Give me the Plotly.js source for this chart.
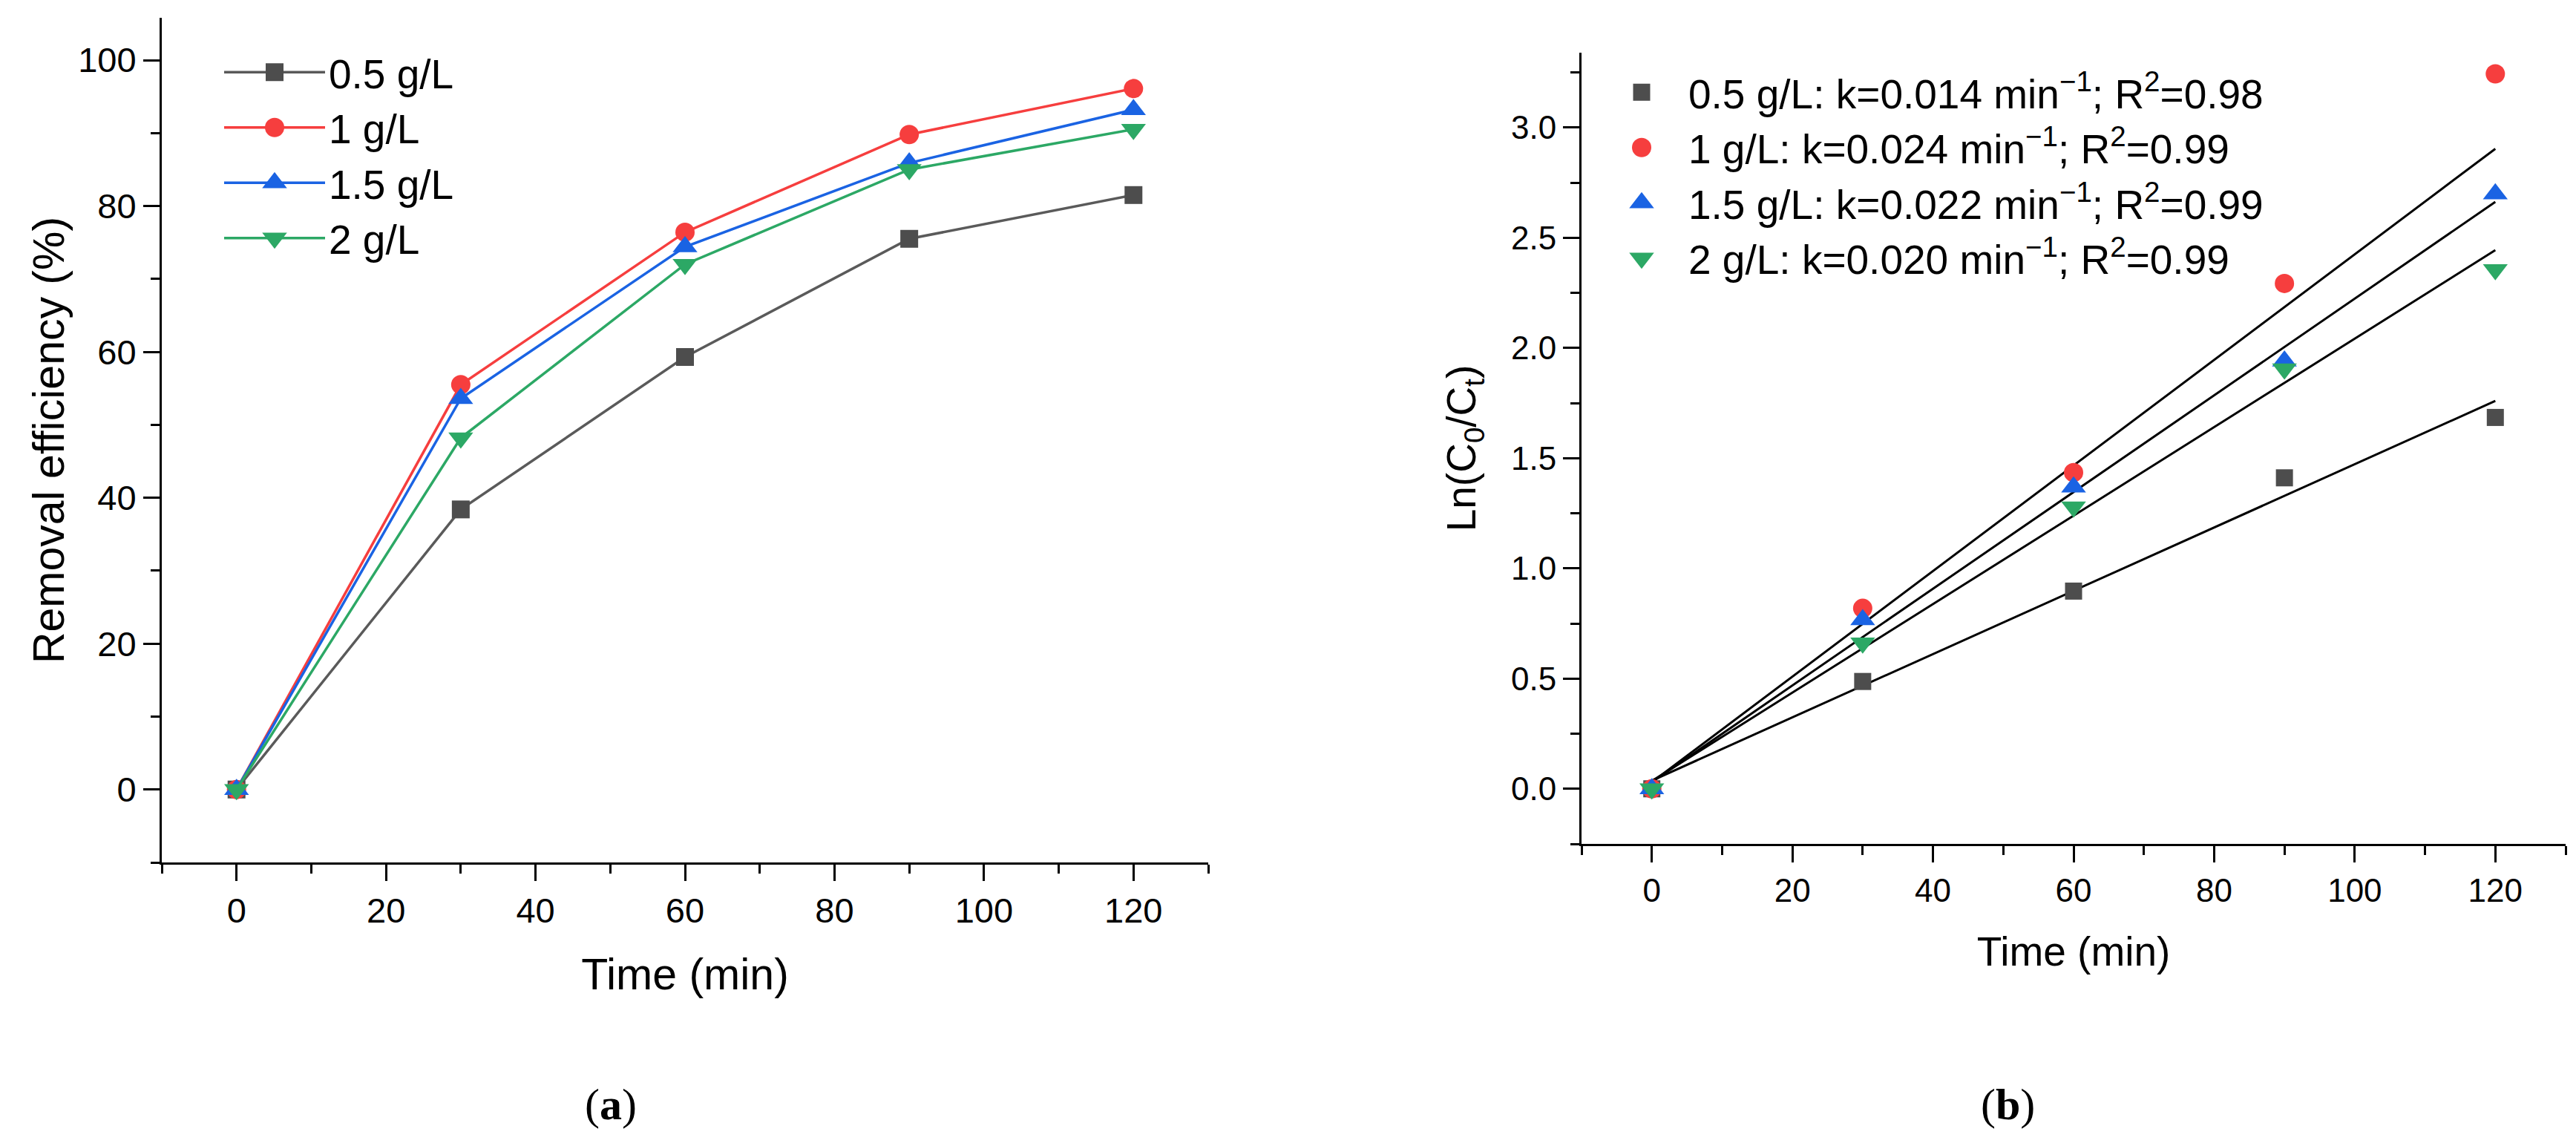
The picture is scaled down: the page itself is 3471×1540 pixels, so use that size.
<!DOCTYPE html>
<html>
<head>
<meta charset="utf-8">
<script src="https://cdn.plot.ly/plotly-3.0.1.min.js"></script>
<style>
  html, body { margin: 0; padding: 0; background: #ffffff; }
  #chart { width: 3471px; height: 1540px; }
</style>
</head>
<body>
<div id="chart"></div>
<script>
// ---------------- data ----------------
const timeMin = [0, 30, 60, 90, 120];
const seriesNames = ['0.5 g/L', '1 g/L', '1.5 g/L', '2 g/L'];

// (a) removal efficiency (%)
const removal05 = [0, 38.4, 59.3, 75.5, 81.5];
const removal1  = [0, 55.5, 76.4, 89.8, 96.1];
const removal15 = [0, 53.6, 74.4, 85.9, 93.2];
const removal2  = [0, 48.2, 72.0, 85.0, 90.5];

// (b) ln(C0/Ct)
const lnRatio05 = [0, 0.487, 0.897, 1.411, 1.685];
const lnRatio1  = [0, 0.819, 1.435, 2.293, 3.244];
const lnRatio15 = [0, 0.767, 1.369, 1.941, 2.699];
const lnRatio2  = [0, 0.662, 1.279, 1.905, 2.356];

// fitted lines (values at the ends of the fit range)
const fitTime = [0, 120];
const fit05 = [0.037, 1.760];
const fit1  = [0.030, 2.904];
const fit15 = [0.030, 2.663];
const fit2  = [0.035, 2.444];

const kValues = ['0.014', '0.024', '0.022', '0.020'];
const r2Values = ['0.98', '0.99', '0.99', '0.99'];

// ---------------- styles ----------------
const colors = ['#4d4d4d', '#f63e3e', '#1a63e3', '#2ca865'];
const lineColors = ['#5a5a5a', '#f63e3e', '#1a63e3', '#2ca865'];
const symbols = ['square', 'circle', 'triangle-up', 'triangle-down'];
const sizesA = [24, 26, 29, 29];
const sizesB = [23, 26, 29, 29];
const FONT = 'Liberation Sans, Arial, Helvetica, sans-serif';
const W = 3471, H = 1540;

const removalSets = [removal05, removal1, removal15, removal2];
const lnSets = [lnRatio05, lnRatio1, lnRatio15, lnRatio2];
const fitSets = [fit05, fit1, fit15, fit2];

const traces = [];
removalSets.forEach((ys, i) => {
  traces.push({
    type: 'scatter', mode: 'lines+markers',
    x: timeMin, y: ys, name: seriesNames[i],
    xaxis: 'x', yaxis: 'y', legend: 'legend',
    line: { color: lineColors[i], width: 3.5 },
    marker: { color: colors[i], symbol: symbols[i], size: sizesA[i], line: { width: 0 } }
  });
});
fitSets.forEach((ys, i) => {
  traces.push({
    type: 'scatter', mode: 'lines',
    x: fitTime, y: ys, showlegend: false,
    xaxis: 'x2', yaxis: 'y2',
    line: { color: '#000000', width: 3 }, hoverinfo: 'skip'
  });
});
lnSets.forEach((ys, i) => {
  traces.push({
    type: 'scatter', mode: 'markers',
    x: timeMin, y: ys,
    name: seriesNames[i] + ': k=' + kValues[i] + ' min<sup>\u22121</sup>; R<sup>2</sup>=' + r2Values[i],
    xaxis: 'x2', yaxis: 'y2', legend: 'legend2',
    marker: { color: colors[i], symbol: symbols[i], size: sizesB[i], line: { width: 0 } }
  });
});

function px(x) { return x / W; }
function py(y) { return (H - y) / H; }

const axisCommon = {
  showline: true, linecolor: '#000', linewidth: 3,
  ticks: 'outside', ticklen: 22, tickwidth: 3, tickcolor: '#000',
  showgrid: false, zeroline: false, mirror: false,
  tickfont: { family: FONT, size: 47, color: '#000' }
};

const layout = {
  width: W, height: H,
  margin: { l: 0, r: 0, t: 0, b: 0 },
  paper_bgcolor: '#fff', plot_bgcolor: '#fff',
  showlegend: true,
  font: { family: FONT, color: '#000' },
  xaxis: Object.assign({}, axisCommon, {
    domain: [px(218), px(1628)], range: [-10, 130],
    tick0: 0, dtick: 20, anchor: 'y',
    minor: { dtick: 10, ticks: 'outside', ticklen: 12, tickwidth: 3, tickcolor: '#000', showgrid: false },
    title: { text: 'Time (min)', font: { family: FONT, size: 59, color: '#000' }, standoff: 40 }
  }),
  yaxis: Object.assign({}, axisCommon, {
    domain: [py(1162), py(24)], range: [-10, 105.8],
    tick0: 0, dtick: 20, anchor: 'x',
    minor: { dtick: 10, ticks: 'outside', ticklen: 12, tickwidth: 3, tickcolor: '#000', showgrid: false },
    title: { text: 'Removal efficiency (%)', font: { family: FONT, size: 59, color: '#000' }, standoff: 0 }
  }),
  xaxis2: Object.assign({}, axisCommon, {
    domain: [px(2131), px(3457)], range: [-10, 130],
    tick0: 0, dtick: 20, anchor: 'y2',
    tickfont: { family: FONT, size: 44, color: '#000' },
    minor: { dtick: 10, ticks: 'outside', ticklen: 12, tickwidth: 3, tickcolor: '#000', showgrid: false },
    title: { text: 'Time (min)', font: { family: FONT, size: 55, color: '#000' }, standoff: 40 }
  }),
  yaxis2: Object.assign({}, axisCommon, {
    domain: [py(1137), py(71)], range: [-0.25, 3.34],
    tick0: 0, dtick: 0.5, tickformat: '.1f', anchor: 'x2',
    tickfont: { family: FONT, size: 44, color: '#000' },
    minor: { dtick: 0.25, ticks: 'outside', ticklen: 12, tickwidth: 3, tickcolor: '#000', showgrid: false },
    title: { text: 'Ln(C<sub>0</sub>/C<sub>t</sub>)', font: { family: FONT, size: 55, color: '#000' }, standoff: 30 }
  }),
  legend: {
    x: px(297), y: py(55), xanchor: 'left', yanchor: 'top',
    bgcolor: 'rgba(0,0,0,0)', borderwidth: 0,
    font: { family: FONT, size: 55, color: '#000' },
    itemwidth: 136, tracegroupgap: 0
  },
  legend2: {
    x: px(2149), y: py(82), xanchor: 'left', yanchor: 'top',
    bgcolor: 'rgba(0,0,0,0)', borderwidth: 0,
    font: { family: FONT, size: 55, color: '#000' },
    itemwidth: 116, tracegroupgap: 0
  },
  annotations: [
    { text: '(<b>a</b>)', x: px(823), y: py(1488), xref: 'paper', yref: 'paper',
      xanchor: 'center', yanchor: 'middle', showarrow: false,
      font: { family: 'Liberation Serif, Times New Roman, serif', size: 60, color: '#000' } },
    { text: '(<b>b</b>)', x: px(2705), y: py(1488), xref: 'paper', yref: 'paper',
      xanchor: 'center', yanchor: 'middle', showarrow: false,
      font: { family: 'Liberation Serif, Times New Roman, serif', size: 60, color: '#000' } }
  ]
};

Plotly.newPlot('chart', traces, layout, { staticPlot: true, displayModeBar: false }).then(function (gd) {
  // enlarge legend symbols (Plotly caps legend markers at 16px)
  function scaleLegend(cls, sizes) {
    const lg = gd.querySelector('g.' + cls);
    if (!lg) return;
    const items = lg.querySelectorAll('g.traces');
    items.forEach(function (item, i) {
      const s = sizes[i] / 16;
      item.querySelectorAll('g.legendpoints path.scatterpts').forEach(function (p) {
        const t = p.getAttribute('transform') || '';
        p.setAttribute('transform', t + ' scale(' + s + ')');
      });
    });
  }
  scaleLegend('legend', sizesA);
  scaleLegend('legend2', sizesB);
});
</script>
</body>
</html>
